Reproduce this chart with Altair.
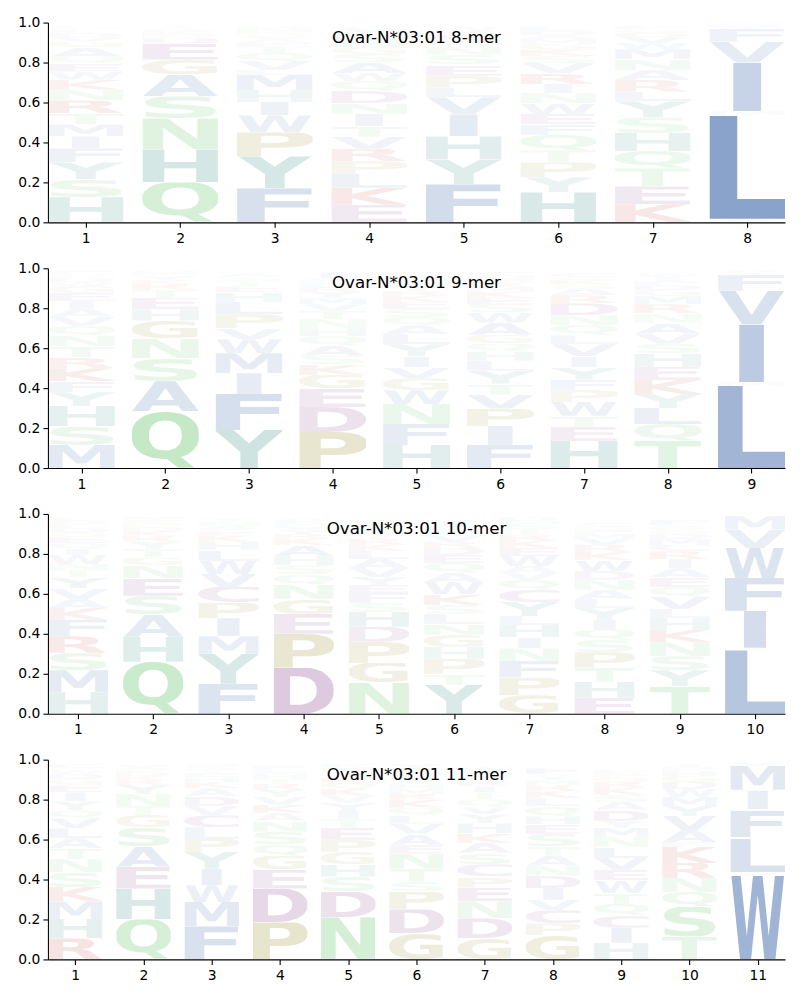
import altair as alt
import pandas as pd
from urllib.parse import quote

TITLES = ["Ovar-N*03:01 8-mer", "Ovar-N*03:01 9-mer", "Ovar-N*03:01 10-mer", "Ovar-N*03:01 11-mer"]

# letters of each column, bottom to top, and their frequencies
P8_LETTERS = ["HSYFIMTRNKWEQAGVDLPC", "QHNSAGEDPKRTY", "FYPWIHMLVQTEASGKND",
              "EKLPRVTINDQWASGHMYC", "FYHIVLPESNQRKW", "HYPTQFEWNIRVSKGMADL",
              "KETQHSYLRANMWVDGF", "ALMIVFYW"]
P8_FREQS = [
    [.125, .09, .085, .07, .06, .06, .055, .065, .055, .05, .04, .04, .035, .045, .03, .025, .02, .015, .01, .01],
    [.2, .165, .155, .11, .11, .075, .08, .03, .02, .015, .01, .01, .01],
    [.17, .16, .12, .085, .068, .06, .075, .025, .045, .04, .03, .02, .02, .015, .01, .01, .02, .01],
    [.088, .085, .07, .063, .063, .06, .053, .06, .055, .06, .05, .04, .055, .04, .035, .03, .03, .03, .01],
    [.19, .125, .115, .11, .085, .05, .06, .055, .05, .04, .03, .03, .02, .02],
    [.15, .075, .075, .06, .078, .052, .053, .055, .05, .045, .055, .05, .035, .03, .03, .025, .02, .02, .02],
    [.09, .09, .09, .087, .09, .078, .08, .05, .057, .05, .055, .05, .03, .03, .02, .02, .015],
    [.018, .517, .02, .245, .105, .065, .015, .01],
]

P9_LETTERS = ["MSHYFKRTNQVAIEGWDPLC", "QASNGHETRKYPD", "YFIMWVPLHETSAN",
              "PDEGKSAQHNTVMYRFLWI", "HFNWGVIYLAQSEKRTMPDC", "FIPVTYLHQGAWSEKMRDNC",
              "HETWPFYIVLQNDRASKGC", "TQLYKEHSVANRMGDFIW", "LMIVFYW"]
P9_FREQS = [
    [.115, .095, .1, .07, .055, .065, .055, .055, .053, .05, .045, .04, .04, .04, .035, .02, .02, .01, .01, .015],
    [.285, .15, .115, .098, .09, .057, .057, .04, .03, .02, .02, .015, .01],
    [.19, .18, .105, .1, .07, .055, .07, .062, .047, .03, .025, .02, .02, .01],
    [.18, .125, .093, .07, .05, .045, .05, .047, .04, .045, .04, .035, .03, .03, .025, .02, .015, .01, .03],
    [.115, .105, .1, .07, .06, .055, .055, .06, .05, .045, .04, .04, .035, .03, .025, .025, .02, .02, .015, .015],
    [.115, .095, .088, .07, .055, .065, .05, .045, .04, .045, .06, .05, .04, .035, .03, .025, .02, .015, .02, .02],
    [.135, .072, .055, .07, .058, .053, .062, .055, .06, .045, .05, .05, .06, .04, .03, .025, .02, .015, .02],
    [.138, .083, .08, .07, .07, .066, .066, .05, .05, .055, .047, .045, .04, .03, .025, .02, .02, .015],
    [.413, .017, .29, .167, .08, .013, .01],
]

P10_LETTERS = ["HMSRFKAVYTNWIQEGDLPC", "QHASENGTYRKDPCM", "FYMIPCVWLHKESANT",
               "DPEGNQSHAKRYVMFW", "NGPDHSFEYVALKRTQIMW", "YTPHGNLSKWAQEDRVMFCI",
               "GPFNIHLYCQVAWEKRTSMD", "EHTPSQIYLANDWKRVMFGC", "TYSNKHLVQEAIRCMDGPWF",
               "LYIFWVM"]
P10_FREQS = [
    [.108, .11, .087, .083, .083, .058, .047, .053, .055, .035, .03, .045, .03, .03, .03, .025, .02, .015, .02, .015],
    [.26, .125, .11, .095, .087, .065, .04, .045, .035, .03, .025, .02, .02, .015, .015],
    [.15, .15, .088, .09, .078, .078, .066, .066, .055, .04, .03, .02, .015, .015, .02, .015],
    [.23, .17, .1, .075, .073, .05, .045, .045, .055, .03, .025, .02, .02, .015, .015, .01],
    [.155, .1, .105, .075, .075, .045, .05, .04, .04, .045, .045, .04, .03, .03, .025, .02, .015, .02, .015],
    [.145, .055, .075, .06, .06, .055, .05, .045, .055, .06, .045, .05, .04, .035, .03, .03, .02, .015, .01, .03],
    [.093, .088, .083, .063, .055, .062, .045, .07, .06, .05, .035, .035, .05, .04, .035, .03, .03, .025, .015, .02],
    [.08, .08, .07, .078, .06, .053, .05, .058, .045, .047, .05, .045, .055, .04, .035, .03, .025, .02, .02, .015],
    [.138, .08, .07, .07, .062, .06, .045, .06, .05, .048, .045, .045, .04, .03, .03, .025, .02, .015, .01, .025],
    [.317, .013, .185, .165, .15, .092, .067],
]

P11_LETTERS = ["RHMKSNTALVQYIEGDWPC", "QHEASGTNYRKDPV", "FMWIYPLCVDAKHETSG",
               "PDEGQSNAKVYRTHMLF", "NDSHGPETIYVKQRALMF", "GDPSTNEAVLQKRMHIFWCY",
               "GDNEPCSAKHYVQTIRFMLW", "GPCVIDNATSEHQLKRMYWF", "HICQTWEVLNMYDASKRGPF",
               "TSQNRKFAVYMWDGHPI", "WYLTFSIAMV"]
P11_FREQS = [
    [.105, .097, .088, .073, .075, .063, .055, .05, .05, .05, .04, .045, .045, .035, .03, .025, .02, .01, .02],
    [.2, .155, .11, .1, .095, .063, .045, .06, .045, .025, .02, .02, .02, .015],
    [.165, .123, .083, .083, .084, .066, .058, .06, .047, .047, .04, .03, .025, .02, .015, .02, .015],
    [.185, .17, .095, .07, .055, .065, .055, .04, .04, .04, .035, .03, .025, .02, .015, .01, .02],
    [.21, .13, .075, .062, .062, .06, .06, .045, .04, .04, .035, .035, .03, .025, .02, .015, .02, .015],
    [.13, .12, .09, .05, .065, .075, .045, .055, .05, .04, .04, .04, .03, .025, .025, .02, .015, .02, .02, .025],
    [.105, .1, .085, .07, .055, .062, .057, .05, .047, .05, .045, .035, .04, .035, .03, .025, .02, .015, .015, .02],
    [.12, .06, .066, .052, .06, .062, .05, .05, .046, .063, .047, .04, .05, .04, .035, .03, .025, .02, .01, .03],
    [.083, .075, .063, .058, .055, .062, .053, .06, .055, .05, .045, .035, .055, .04, .035, .035, .03, .025, .02, .015],
    [.113, .15, .075, .07, .075, .08, .025, .06, .07, .05, .045, .04, .035, .03, .025, .02, .015],
    [.42, .016, .167, .008, .132, .01, .09, .007, .12, .02],
]

PANELS = [
    (TITLES[0], P8_LETTERS, P8_FREQS),
    (TITLES[1], P9_LETTERS, P9_FREQS),
    (TITLES[2], P10_LETTERS, P10_FREQS),
    (TITLES[3], P11_LETTERS, P11_FREQS),
]

# colour per residue group
BLUE, TEAL, GREEN, PURPLE, OLIVE, RED = "#4C72B0", "#3A8F86", "#5FC464", "#8E4A8E", "#9C9230", "#C0392B"
COLORS = {
    "A": BLUE, "F": BLUE, "I": BLUE, "L": BLUE, "M": BLUE, "V": BLUE, "W": BLUE,
    "H": TEAL, "Y": TEAL,
    "N": GREEN, "Q": GREEN, "S": GREEN, "T": GREEN,
    "D": PURPLE, "E": PURPLE, "C": PURPLE,
    "G": OLIVE, "P": OLIVE,
    "K": RED, "R": RED,
}

# approximate bold sans glyph metrics (advance, left bearing, right bearing) per 1000 em
GLYPH = {
    "A": (774, 0, 0), "C": (732, 55, 70), "D": (830, 91, 55), "E": (683, 91, 70),
    "F": (683, 91, 75), "G": (821, 55, 60), "H": (837, 91, 91), "I": (372, 91, 91),
    "K": (775, 91, 0), "L": (637, 91, 35), "M": (995, 91, 91), "N": (837, 91, 91),
    "P": (733, 91, 50), "Q": (850, 55, 55), "R": (770, 91, 5), "S": (720, 50, 55),
    "T": (682, 5, 5), "V": (774, 0, 0), "W": (1103, 15, 15), "Y": (724, 0, 0),
}
ROUND = set("CGQS")


def glyph_url(letter):
    adv, lsb, rsb = GLYPH[letter]
    top, bot = (745, -15) if letter in ROUND else (729, 0)
    if letter == "Q":
        bot = -160
    x0, w = lsb, adv - lsb - rsb
    if letter == "I":
        stem = w
        w = stem / 0.37
        x0 = lsb - (w - stem) / 2
    h = top - bot
    svg = (f'<svg xmlns="http://www.w3.org/2000/svg" width="{w:.0f}" height="{h:.0f}" '
           f'viewBox="{x0:.1f} {-top} {w:.1f} {h}" preserveAspectRatio="none">'
           f'<text x="0" y="0" font-family="DejaVu Sans" font-weight="bold" font-size="1000" '
           f'fill="{COLORS[letter]}">{letter}</text></svg>')
    return "data:image/svg+xml;charset=utf-8," + quote(svg)


def panel(title, letters, freqs):
    rows = []
    for i, (ls, fs) in enumerate(zip(letters, freqs), start=1):
        for k, (ch, f) in enumerate(zip(ls, fs)):
            rows.append(dict(pos=i, letter=ch, freq=f, order=k, url=glyph_url(ch)))
    df = pd.DataFrame(rows)
    n = len(letters)
    base = alt.Chart(df).transform_stack(
        stack="freq", groupby=["pos"], as_=["y0", "y1"],
        sort=[alt.SortField("order", order="ascending")],
    ).transform_calculate(x0="datum.pos - 0.4", x1="datum.pos + 0.4")
    img = base.mark_image(aspect=False).encode(
        x=alt.X("x0:Q", scale=alt.Scale(domain=[0.6, n + 0.4], nice=False, zero=False),
                axis=alt.Axis(values=list(range(1, n + 1)), format="d", title=None, labelPadding=4)),
        x2="x1:Q",
        y=alt.Y("y0:Q", scale=alt.Scale(domain=[0, 1], nice=False),
                axis=alt.Axis(values=[0, 0.2, 0.4, 0.6, 0.8, 1.0], format=".1f", title=None)),
        y2="y1:Q",
        url="url:N",
        opacity=alt.Opacity("freq:Q", scale=alt.Scale(domain=[0, 0.8], range=[0, 1], clamp=True), legend=None),
    )
    txt = alt.Chart(pd.DataFrame({"t": [title]})).mark_text(
        font="DejaVu Sans", fontSize=16.7, color="black", baseline="middle", align="center"
    ).encode(x=alt.value(369), y=alt.value(15), text="t:N")
    return alt.layer(img, txt).properties(width=738, height=200)


chart = alt.vconcat(*[panel(*p) for p in PANELS], spacing=46, bounds="flush").properties(
    padding={"left": 17, "top": 15, "right": 15, "bottom": 5}, background="white"
).configure_view(stroke=None).configure_axis(
    grid=False, labelFont="DejaVu Sans", labelFontSize=13.9, labelColor="black",
    tickColor="black", domainColor="black", tickSize=5, tickWidth=1.1, domainWidth=1.1,
    labelPadding=3,
)

chart.save("out.html", embed_options={"renderer": "svg", "actions": False})
